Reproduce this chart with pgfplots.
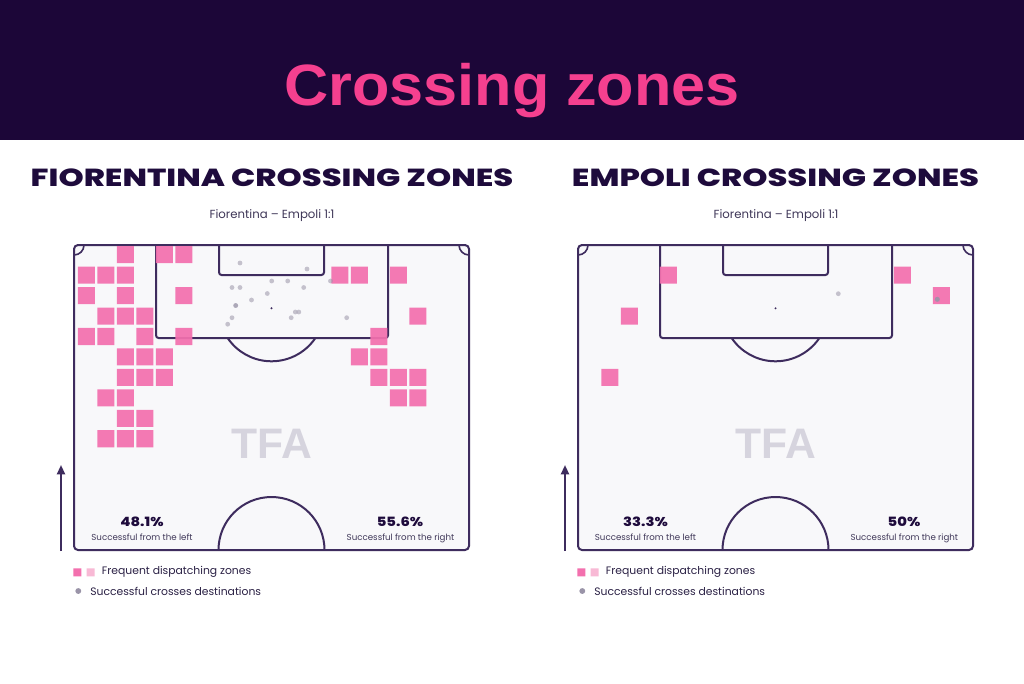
\documentclass[border=0pt]{standalone}
\usepackage{pgfplots}
\pgfplotsset{compat=1.18}
\usepackage{pgfplotstable}
\usepackage{fontspec}
\usetikzlibrary{arrows.meta}
\setmainfont{Poppins}
\newfontfamily\titlefont{Liberation Sans}
\newfontfamily\heavyfont{Poppins ExtraBold}

\definecolor{hdr}{HTML}{1C0638}
\definecolor{pinkT}{HTML}{F5408F}
\definecolor{navy}{HTML}{1E0B3C}
\definecolor{pline}{HTML}{3E2C5E}
\definecolor{pbg}{HTML}{F8F8FA}
\definecolor{sq}{HTML}{F370AE}
\definecolor{sqlight}{HTML}{F8B9D5}
\definecolor{dotc}{HTML}{9A94A8}
\definecolor{wm}{HTML}{D6D4DE}
\definecolor{txt}{HTML}{2B2145}
\definecolor{subc}{HTML}{3F3758}

\pgfdeclareplotmark{rsq}{%
  \pgfsetcornersarced{\pgfpoint{1.4pt}{1.4pt}}%
  \pgfpathmoveto{\pgfpoint{-\pgfplotmarksize}{0pt}}%
  \pgfpathlineto{\pgfpoint{-\pgfplotmarksize}{\pgfplotmarksize}}%
  \pgfpathlineto{\pgfpoint{\pgfplotmarksize}{\pgfplotmarksize}}%
  \pgfpathlineto{\pgfpoint{\pgfplotmarksize}{-\pgfplotmarksize}}%
  \pgfpathlineto{\pgfpoint{-\pgfplotmarksize}{-\pgfplotmarksize}}%
  \pgfpathclose
  \pgfusepathqfill}

% Frequent dispatching zones (grid column, grid row)
\pgfplotstableread{
c r
2 0
4 0
5 0
0 1
1 1
2 1
13 1
14 1
16 1
0 2
2 2
5 2
1 3
2 3
3 3
17 3
0 4
1 4
3 4
5 4
15 4
2 5
3 5
4 5
14 5
15 5
2 6
3 6
4 6
15 6
16 6
17 6
1 7
2 7
16 7
17 7
2 8
3 8
1 9
2 9
3 9
}\fiosq

\pgfplotstableread{
c r
4 1
16 1
18 2
2 3
1 6
}\empsq

% Successful crosses destinations (pixel position)
\pgfplotstableread{
x y
240 263
307 269
271.7 281
287.7 281
330.5 281
232 287.5
240 287.5
303.7 287.5
267.3 293.5
251.5 300
235.7 305.5
235.7 305.5
295.3 312
298.8 312
291.2 317.7
346.7 317.7
232 317.7
227.7 324.2
}\fiodots

\pgfplotstableread{
x y
838.3 293.7
937.3 299.3
937.3 299.3
937.3 299.3
}\empdots

\begin{document}
\begin{tikzpicture}
\begin{axis}[
  width=768pt, height=512.25pt, scale only axis,
  xmin=0, xmax=1024, ymin=0, ymax=683, y dir=reverse,
  hide axis, clip=false]

% background
\fill[white] (axis cs:0,0) rectangle (axis cs:1024,683);
\fill[hdr] (axis cs:0,0) rectangle (axis cs:1024,140);
\node[font=\titlefont\bfseries\fontsize{43.7}{50}\selectfont, text=pinkT, anchor=base, xscale=1.05] at (axis cs:512,105) {Crossing zones};

% headings
\node[font=\heavyfont\fontsize{18.5}{22}\selectfont, text=navy, anchor=base, xscale=1.3] at (axis cs:272,186) {FIORENTINA CROSSING ZONES};
\node[font=\heavyfont\fontsize{18.5}{22}\selectfont, text=navy, anchor=base, xscale=1.3] at (axis cs:775.5,186) {EMPOLI CROSSING ZONES};
\node[font=\fontsize{8.8}{11}\selectfont, text=subc, anchor=base] at (axis cs:272,218.6) {Fiorentina – Empoli 1:1};
\node[font=\fontsize{8.8}{11}\selectfont, text=subc, anchor=base] at (axis cs:776,218.6) {Fiorentina – Empoli 1:1};

% ---- left pitch
\filldraw[fill=pbg, draw=pline, line width=1.5pt, rounded corners=3pt] (axis cs:74,245) rectangle (axis cs:469,550);
\draw[pline, line width=1.5pt, rounded corners=2pt] (axis cs:156,245) -- (axis cs:156,338) -- (axis cs:388,338) -- (axis cs:388,245);
\draw[pline, line width=1.5pt, rounded corners=2pt] (axis cs:219,245) -- (axis cs:219,275) -- (axis cs:324,275) -- (axis cs:324,245);
\draw[pline, line width=1.5pt] (axis cs:315.4,338) arc[start angle=-34.1, end angle=-145.9, radius=39.75pt];
\draw[pline, line width=1.5pt] (axis cs:324.5,550) arc[start angle=0, end angle=180, radius=39.75pt];
\draw[pline, line width=1.2pt] (axis cs:84,245) arc[start angle=0, end angle=-90, radius=7.5pt];
\draw[pline, line width=1.2pt] (axis cs:459,245) arc[start angle=180, end angle=270, radius=7.5pt];
\fill[pline] (axis cs:271.5,308.3) circle[radius=0.8pt];
\node[font=\titlefont\bfseries\fontsize{32}{36}\selectfont, text=wm, anchor=center] at (axis cs:271.5,443.7) {TFA};

% ---- right pitch
\filldraw[fill=pbg, draw=pline, line width=1.5pt, rounded corners=3pt] (axis cs:578,245) rectangle (axis cs:973,550);
\draw[pline, line width=1.5pt, rounded corners=2pt] (axis cs:660,245) -- (axis cs:660,338) -- (axis cs:892,338) -- (axis cs:892,245);
\draw[pline, line width=1.5pt, rounded corners=2pt] (axis cs:723,245) -- (axis cs:723,275) -- (axis cs:828,275) -- (axis cs:828,245);
\draw[pline, line width=1.5pt] (axis cs:819.4,338) arc[start angle=-34.1, end angle=-145.9, radius=39.75pt];
\draw[pline, line width=1.5pt] (axis cs:828.5,550) arc[start angle=0, end angle=180, radius=39.75pt];
\draw[pline, line width=1.2pt] (axis cs:588,245) arc[start angle=0, end angle=-90, radius=7.5pt];
\draw[pline, line width=1.2pt] (axis cs:963,245) arc[start angle=180, end angle=270, radius=7.5pt];
\fill[pline] (axis cs:775.5,308.3) circle[radius=0.8pt];
\node[font=\titlefont\bfseries\fontsize{32}{36}\selectfont, text=wm, anchor=center] at (axis cs:775.5,443.7) {TFA};

% arrows
\draw[pline, line width=1.5pt, -{Triangle[length=7pt,width=6pt]}] (axis cs:61,551) -- (axis cs:61,465);
\draw[pline, line width=1.5pt, -{Triangle[length=7pt,width=6pt]}] (axis cs:565,551) -- (axis cs:565,465);

% stats
\node[font=\heavyfont\fontsize{9.6}{11}\selectfont, text=navy, anchor=base, xscale=1.15] at (axis cs:142,526.7) {48.1\%};
\node[font=\fontsize{6.5}{8}\selectfont, text=subc, anchor=base] at (axis cs:142,540) {Successful from the left};
\node[font=\heavyfont\fontsize{9.6}{11}\selectfont, text=navy, anchor=base, xscale=1.15] at (axis cs:400,526.7) {55.6\%};
\node[font=\fontsize{6.5}{8}\selectfont, text=subc, anchor=base] at (axis cs:400.5,540) {Successful from the right};
\node[font=\heavyfont\fontsize{9.6}{11}\selectfont, text=navy, anchor=base, xscale=1.15] at (axis cs:645.5,526.7) {33.3\%};
\node[font=\fontsize{6.5}{8}\selectfont, text=subc, anchor=base] at (axis cs:645.5,540) {Successful from the left};
\node[font=\heavyfont\fontsize{9.6}{11}\selectfont, text=navy, anchor=base, xscale=1.15] at (axis cs:904,526.7) {50\%};
\node[font=\fontsize{6.5}{8}\selectfont, text=subc, anchor=base] at (axis cs:904.3,540) {Successful from the right};

% legends text
\node[font=\fontsize{8.1}{10}\selectfont, text=txt, anchor=west, inner sep=0pt] at (axis cs:101.7,572.3) {Frequent dispatching zones};
\node[font=\fontsize{8.1}{10}\selectfont, text=txt, anchor=west, inner sep=0pt] at (axis cs:90,591) {Successful crosses destinations};
\node[font=\fontsize{8.1}{10}\selectfont, text=txt, anchor=west, inner sep=0pt] at (axis cs:605.7,572.3) {Frequent dispatching zones};
\node[font=\fontsize{8.1}{10}\selectfont, text=txt, anchor=west, inner sep=0pt] at (axis cs:594,591) {Successful crosses destinations};

% data: squares
\addplot[color=sq, only marks, mark=rsq, mark size=6.4pt, mark options={fill=sq, fill opacity=0.93}]
  table[x expr={86.3+19.5*\thisrow{c}}, y expr={254.7+20.45*\thisrow{r}}] {\fiosq};
\addplot[color=sq, only marks, mark=rsq, mark size=6.4pt, mark options={fill=sq, fill opacity=0.93}]
  table[x expr={590.3+19.5*\thisrow{c}}, y expr={254.7+20.45*\thisrow{r}}] {\empsq};
% data: dots
\addplot[color=dotc, only marks, mark=*, mark size=1.8pt, mark options={fill=dotc, draw opacity=0, fill opacity=0.55}]
  table[x=x, y=y] {\fiodots};
\addplot[color=dotc, only marks, mark=*, mark size=1.8pt, mark options={fill=dotc, draw opacity=0, fill opacity=0.55}]
  table[x=x, y=y] {\empdots};

% legend keys
\addplot[color=sq, only marks, mark=rsq, mark size=3pt, mark options={fill=sq}] coordinates {(77.3,572.3) (581.3,572.3)};
\addplot[color=sqlight, only marks, mark=rsq, mark size=3pt, mark options={fill=sqlight}] coordinates {(90.7,572.3) (594.7,572.3)};
\addplot[color=dotc, only marks, mark=*, mark size=2.2pt, mark options={fill=dotc, draw opacity=0}] coordinates {(78.3,591) (582.3,591)};
\end{axis}
\end{tikzpicture}
\end{document}
